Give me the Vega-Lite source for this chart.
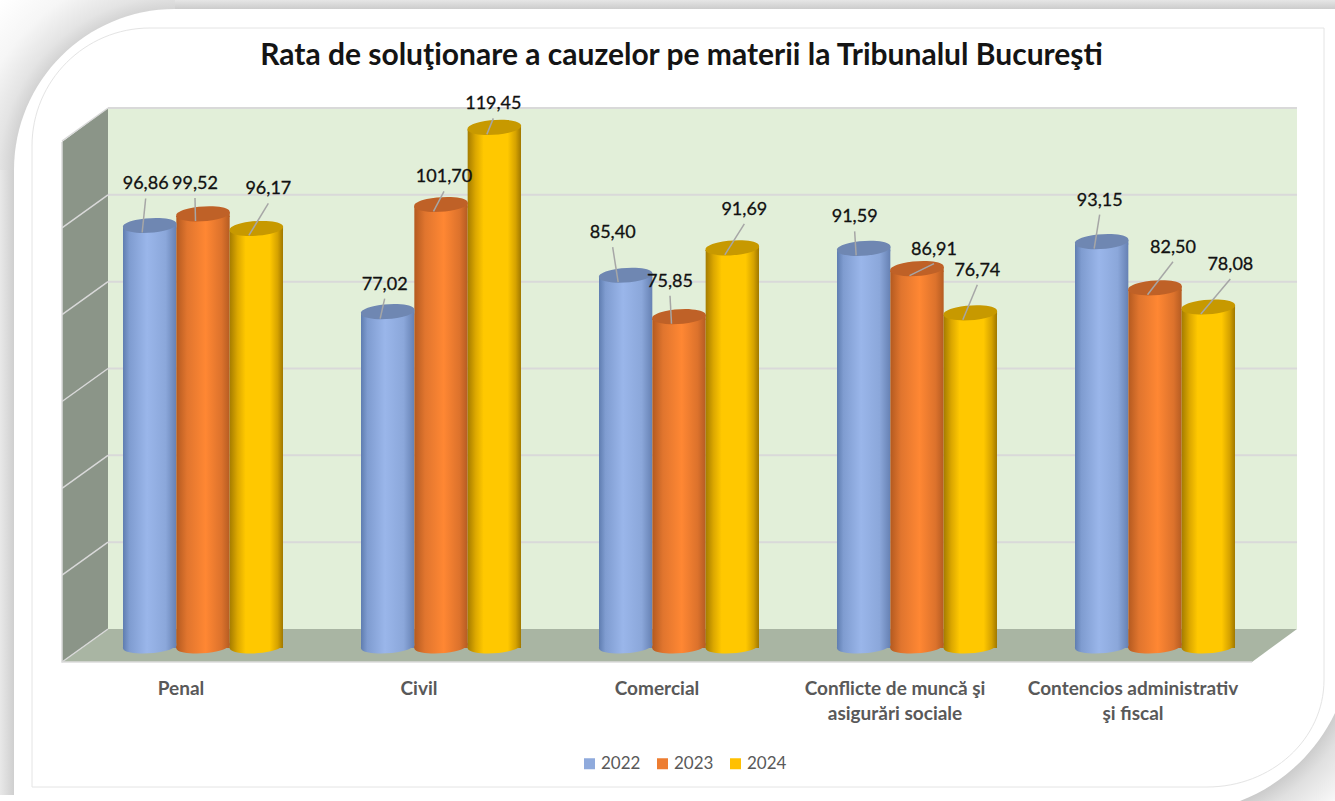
{
"$schema":"https://vega.github.io/schema/vega-lite/v6.json",
"width":1189,"height":521,
"autosize":{"type":"none"},
"padding":{"left":108,"top":108,"right":38,"bottom":172},
"background":"#ffffff",
"config":{"view":{"stroke":null}},
"title":{"text":"Rata de soluţionare a cauzelor pe materii la Tribunalul Bucureşti","anchor":"middle","frame":"group","dx":-21,"dy":103,"offset":32,"font":"Lato","fontSize":30,"fontWeight":"bold","color":"#141414"},
"params":[
{"name":"grad","expr":"{'2022':{gradient:'linear',x1:0,y1:0,x2:1,y2:0,stops:[{offset:0,color:'#5f7db0'},{offset:0.12,color:'#7f9cd0'},{offset:0.45,color:'#9ab6ea'},{offset:0.8,color:'#8ba7da'},{offset:1,color:'#6681b3'}]},'2023':{gradient:'linear',x1:0,y1:0,x2:1,y2:0,stops:[{offset:0,color:'#b45a20'},{offset:0.2,color:'#e0752e'},{offset:0.55,color:'#ff8733'},{offset:0.85,color:'#dc722c'},{offset:1,color:'#b55c22'}]},'2024':{gradient:'linear',x1:0,y1:0,x2:1,y2:0,stops:[{offset:0,color:'#a57c00'},{offset:0.15,color:'#dca800'},{offset:0.3,color:'#ffc800'},{offset:0.75,color:'#ffc800'},{offset:0.9,color:'#d5a200'},{offset:1,color:'#a07800'}]}}"},
{"name":"capuri","expr":"{'2022':'#6f87b2','2023':'#bf6127','2024':'#c79900'}"},
{"name":"poz","expr":"{Penal:{'2022':[-4,-42],'2023':[-8,-31],'2024':[12,-40]},Civil:{'2022':[-3,-28],'2023':[3,-28],'2024':[-1,-24]},Comercial:{'2022':[-13,-43],'2023':[-9,-36],'2024':[12,-39]},'Conflicte de muncă şi asigurări sociale':{'2022':[-9,-32],'2023':[17,-20],'2024':[7,-43]},'Contencios administrativ şi fiscal':{'2022':[-2,-42],'2023':[18,-41],'2024':[22,-43]}}"}
],
"layer":[
{"data":{"values":[{"piesa":"stanga"}]},"mark":{"type":"point","filled":true,"opacity":1,"size":4,"shape":"M-702.5,-208.5H-688.5V426.5H-702.5Z","fill":{"gradient":"linear","x1":0,"y1":0,"x2":1,"y2":0,"stops":[{"offset":0,"color":"#e8e8e8"},{"offset":1,"color":"#cfcfcf"}]}},"encoding":{}},
{"data":{"values":[{"piesa":"sus"}]},"mark":{"type":"point","filled":true,"opacity":1,"size":4,"shape":"M-527.5,-368.5H632.5V-358.5H-527.5Z","fill":{"gradient":"linear","x1":0,"y1":0,"x2":0,"y2":1,"stops":[{"offset":0,"color":"#e6e6e6"},{"offset":1,"color":"#c9c9c9"}]}},"encoding":{}},
{"data":{"values":[{"piesa":"colt1"}]},"mark":{"type":"point","filled":true,"opacity":1,"size":4,"shape":"M-702.5,-368.5H-527.5V-198.5H-702.5Z","fill":{"gradient":"radial","x1":1,"y1":1,"r1":0,"x2":1,"y2":1,"r2":1.4,"stops":[{"offset":0.65,"color":"#cfcfcf"},{"offset":0.72,"color":"#e4e4e4"},{"offset":0.84,"color":"#f6f6f6"},{"offset":1,"color":"#ffffff"}]}},"encoding":{}},
{"data":{"values":[{"piesa":"colt2"}]},"mark":{"type":"point","filled":true,"opacity":1,"size":4,"shape":"M469.5,267.5H632.5V432.5H469.5Z","fill":{"gradient":"radial","x1":0,"y1":0,"r1":0,"x2":0,"y2":0,"r2":1.45,"stops":[{"offset":0.74,"color":"#c8c8c8"},{"offset":0.82,"color":"#e0e0e0"},{"offset":0.95,"color":"#f5f5f5"},{"offset":1,"color":"#ffffff"}]}},"encoding":{}},
{"data":{"values":[{"piesa":"card"}]},"mark":{"type":"point","filled":true,"opacity":1,"size":4,"color":"#ffffff","shape":"M-527.5,-359.5H632.5V344.5A175,175 0 0 1 537.5,432.5H-688.5V-198.5A161,161 0 0 1 -527.5,-359.5Z"},"encoding":{}},
{"data":{"values":[{"piesa":"chenar"}]},"mark":{"type":"point","filled":false,"opacity":1,"size":4,"stroke":"#e4e4e4","strokeWidth":1,"shape":"M-552.5,-340.5H621.5V311.5A117,107 0 0 1 504.5,418.5H-670.5V-222.5A118,118 0 0 1 -552.5,-340.5Z"},"encoding":{}},
{"data":{"values":[{"piesa":"perete"}]},"mark":{"type":"point","filled":true,"opacity":1,"size":4,"color":"#e2efd9","shape":"M-594.5,-260.5H594.5V260.5H-594.5Z"},"encoding":{}},
{"data":{"values":[{"piesa":"lateral"}]},"mark":{"type":"point","filled":true,"opacity":1,"size":4,"color":"#8b9588","shape":"M-640.5,-226.5L-594.5,-260.5V260.5L-640.5,293.5Z"},"encoding":{}},
{"data":{"values":[{"piesa":"podea"}]},"mark":{"type":"point","filled":true,"opacity":1,"size":4,"color":"#a9b5a3","shape":"M-640.5,293.5L-594.5,260.5H594.5L549.5,293.5Z"},"encoding":{}},
{"data":{"values":[{"piesa":"contur"}]},"mark":{"type":"point","filled":false,"opacity":1,"size":4,"stroke":"#dcdcdc","strokeWidth":1.5,"shape":"M-640.5,-226.5V293.5H549.5"},"encoding":{}},
{"data":{"values":[{"g":0},{"g":20},{"g":40},{"g":60},{"g":80},{"g":100},{"g":120}]},
 "layer":[
  {"transform":[{"filter":"datum.g>0"}],"mark":{"type":"rule","color":"#d9d9d9","strokeWidth":2},"encoding":{"y":{"field":"g","type":"quantitative","scale":{"domain":[0,120],"nice":false},"axis":null}}},
  {"mark":{"type":"point","filled":false,"opacity":1,"size":4,"stroke":"#d9d9d9","strokeWidth":1.5,"shape":"M-640.5,33L-594.5,0"},"encoding":{"y":{"field":"g","type":"quantitative","axis":null}}}
 ]},
{"data":{"values":[
{"materie":"Penal","an":"2022","rata":96.86,"eticheta":"96,86"},
{"materie":"Penal","an":"2023","rata":99.52,"eticheta":"99,52"},
{"materie":"Penal","an":"2024","rata":96.17,"eticheta":"96,17"},
{"materie":"Civil","an":"2022","rata":77.02,"eticheta":"77,02"},
{"materie":"Civil","an":"2023","rata":101.70,"eticheta":"101,70"},
{"materie":"Civil","an":"2024","rata":119.45,"eticheta":"119,45"},
{"materie":"Comercial","an":"2022","rata":85.40,"eticheta":"85,40"},
{"materie":"Comercial","an":"2023","rata":75.85,"eticheta":"75,85"},
{"materie":"Comercial","an":"2024","rata":91.69,"eticheta":"91,69"},
{"materie":"Conflicte de muncă şi asigurări sociale","an":"2022","rata":91.59,"eticheta":"91,59"},
{"materie":"Conflicte de muncă şi asigurări sociale","an":"2023","rata":86.91,"eticheta":"86,91"},
{"materie":"Conflicte de muncă şi asigurări sociale","an":"2024","rata":76.74,"eticheta":"76,74"},
{"materie":"Contencios administrativ şi fiscal","an":"2022","rata":93.15,"eticheta":"93,15"},
{"materie":"Contencios administrativ şi fiscal","an":"2023","rata":82.50,"eticheta":"82,50"},
{"materie":"Contencios administrativ şi fiscal","an":"2024","rata":78.08,"eticheta":"78,08"}
]},
"encoding":{
 "x":{"field":"materie","type":"nominal","sort":null,"scale":{"type":"band","paddingInner":0,"paddingOuter":0,"range":[-46,1144]},
  "axis":{"title":null,"orient":"bottom","domain":false,"ticks":false,"labelAngle":0,"labelPadding":50,"zindex":1,"labelFont":"Lato","labelFontSize":19,"labelFontWeight":"bold","labelColor":"#595959","labelLineHeight":25,"labelLimit":400,"labelOverlap":false,"labelBaseline":"top",
  "labelExpr":"datum.label=='Conflicte de muncă şi asigurări sociale'?['Conflicte de muncă şi','asigurări sociale']:datum.label=='Contencios administrativ şi fiscal'?['Contencios administrativ','şi fiscal']:datum.label"}},
 "xOffset":{"field":"an","type":"nominal","scale":{"domain":["2022","2023","2024"],"range":[61,221],"paddingInner":0,"paddingOuter":0}},
 "y":{"field":"rata","type":"quantitative","axis":null}
},
"layer":[
 {"mark":{"type":"point","filled":true,"opacity":1,"size":0},"encoding":{"color":{"field":"an","type":"nominal","scale":{"domain":["2022","2023","2024"],"range":["#8faadc","#ed7d31","#ffc000"]},"legend":{"title":null,"orient":"none","legendX":473,"legendY":647,"direction":"horizontal","symbolType":"square","symbolSize":121,"labelFont":"Lato","labelFontSize":17,"labelColor":"#595959","columnPadding":13,"symbolStrokeWidth":0,"labelOffset":3}}}},
 {"mark":{"type":"bar","yOffset":19,"y2Offset":17,"fill":{"expr":"grad[datum.an]"}},"encoding":{}},
 {"mark":{"type":"point","filled":true,"opacity":1,"size":4,"yOffset":17,"fill":{"expr":"grad[datum.an]"},"shape":"M-26.7,1.9A26.8,7 -4 1 0 26.7,-1.9A26.8,7 -4 1 0 -26.7,1.9Z"},"encoding":{"y":{"datum":0,"type":"quantitative"}}},
 {"mark":{"type":"point","filled":true,"opacity":1,"size":4,"yOffset":17,"fill":{"expr":"grad[datum.an]"},"shape":"M-26.7,1.9L26.7,-1.9V3H-26.7Z"},"encoding":{}},
 {"mark":{"type":"point","filled":true,"opacity":1,"size":4,"yOffset":17,"fill":{"expr":"capuri[datum.an]"},"shape":"M-26.7,1.9A26.8,7 -4 1 0 26.7,-1.9A26.8,7 -4 1 0 -26.7,1.9Z"},"encoding":{}},
 {"mark":{"type":"point","filled":false,"opacity":1,"size":4,"yOffset":17,"stroke":"#a6a6a6","strokeWidth":1.5,"shape":{"expr":"'M'+poz[datum.materie][datum.an][0]+','+(poz[datum.materie][datum.an][1]+15)+'L-7.5,7'"}},"encoding":{}},
 {"mark":{"type":"text","font":"Lato","fontSize":18,"color":"#111111","stroke":"#111111","strokeWidth":0.3,"baseline":"middle","align":"center","dx":{"expr":"poz[datum.materie][datum.an][0]"},"dy":{"expr":"poz[datum.materie][datum.an][1]+18"}},"encoding":{"text":{"field":"eticheta","type":"nominal"}}}
]}
]}
